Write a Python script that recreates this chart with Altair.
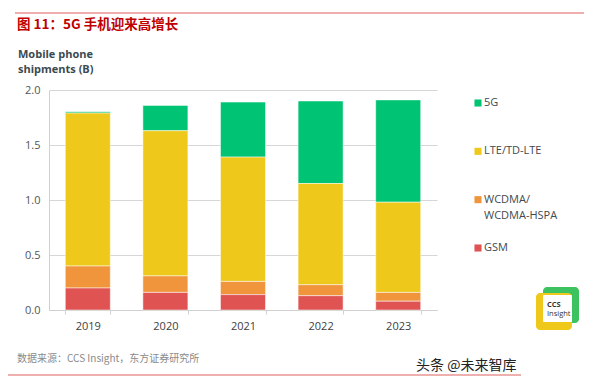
import altair as alt
import pandas as pd

years = ["2019", "2020", "2021", "2022", "2023"]
series_order = ["5G", "LTE/TD-LTE", "WCDMA/WCDMA-HSPA", "GSM"]
stack_rank = {"GSM": 0, "WCDMA/WCDMA-HSPA": 1, "LTE/TD-LTE": 2, "5G": 3}
colors = ["#00C373", "#EEC91B", "#F0953B", "#E05353"]

gsm = [0.20, 0.16, 0.14, 0.13, 0.08]
wcdma = [0.20, 0.15, 0.12, 0.10, 0.08]
lte = [1.39, 1.32, 1.13, 0.92, 0.82]
g5 = [0.012, 0.23, 0.50, 0.75, 0.93]

values_by_series = {"5G": g5, "LTE/TD-LTE": lte, "WCDMA/WCDMA-HSPA": wcdma, "GSM": gsm}
rows = []
for s, vals in values_by_series.items():
    for y, v in zip(years, vals):
        rows.append({"year": y, "series": s, "value": v, "rank": stack_rank[s]})
df = pd.DataFrame(rows)
df_leg = pd.DataFrame({"series": series_order})
one = pd.DataFrame({"a": [0]})

LATIN = "Open Sans"
CJK = "Noto Sans CJK SC"

color = alt.Color("series:N", scale=alt.Scale(domain=series_order, range=colors), legend=None)

bars = alt.Chart(df).mark_bar(stroke="#ffffff", strokeWidth=0.5).encode(
    x=alt.X("year:N", sort=years,
            scale=alt.Scale(paddingInner=0.42, paddingOuter=0.21),
            axis=alt.Axis(title=None, labelAngle=0, tickBand="extent", domainColor="#D0D0D0",
                          tickColor="#D0D0D0", tickSize=4, labelPadding=6, labelColor="#404040",
                          labelFontSize=11, labelFont=LATIN)),
    y=alt.Y("value:Q", stack="zero", scale=alt.Scale(domain=[0, 2]),
            axis=alt.Axis(title=None, values=[0, 0.5, 1, 1.5, 2], format=".1f", grid=True,
                          gridColor="#D6D6D6", domainColor="#D0D0D0", ticks=False, labelPadding=9,
                          labelColor="#555555", labelFontSize=11, labelFont=LATIN)),
    color=color,
    order=alt.Order("rank:Q", sort="ascending"),
)

leg_y = alt.Y("series:N", sort=series_order,
              scale=alt.Scale(type="point", range=[13, 158], padding=0), axis=None)
leg_sq = alt.Chart(df_leg).mark_square(size=50, opacity=1).encode(
    x=alt.value(429), y=leg_y, color=color)
leg_tx = alt.Chart(df_leg).transform_calculate(
    lab="replace(datum.series, 'A/', 'A/|')"
).mark_text(align="left", baseline="top", dy=-6, fontSize=11, font=LATIN, color="#404A4F",
            lineBreak="|", lineHeight=16).encode(
    x=alt.value(435), y=leg_y, text="lab:N")
legend = alt.layer(leg_sq, leg_tx)

def txt(s, x, y, **kw):
    return alt.Chart(one).mark_text(text=s, align="left", baseline="middle", **kw).encode(
        x=alt.value(x), y=alt.value(y))

def rule(x, x2, y, c, w):
    return alt.Chart(one).mark_rule(color=c, strokeWidth=w).encode(
        x=alt.value(x), x2=alt.value(x2), y=alt.value(y))

def box(x, x2, y, y2, c, r=0):
    return alt.Chart(one).mark_rect(color=c, cornerRadius=r).encode(
        x=alt.value(x), x2=alt.value(x2), y=alt.value(y), y2=alt.value(y2))

deco = [
    rule(-34, 560, -77, "#E89494", 1.5),
    txt("图 11：5G 手机迎来高增长", -32, -65, fontSize=13.5, fontWeight="bold", color="#C00000", font=CJK),
    alt.Chart(one).mark_text(text="Mobile phone|shipments (B)", align="left", baseline="middle",
                             lineBreak="|", lineHeight=15, fontSize=11, fontWeight="bold",
                             color="#3A4A50", font=LATIN).encode(x=alt.value(-31), y=alt.value(-35)),
    txt("数据来源：CCS Insight，东方证券研究所", -32, 269, fontSize=10, color="#8A8A8A", font=CJK),
    txt("头条 @未来智库", 367, 276, fontSize=14, color="#222222", font=CJK),
    rule(-42, 472, 285, "#E89494", 1.5),
    box(494, 530, 197, 233, "#3CC35F", 4),
    box(487, 523, 203, 240, "#EEC91B", 4),
    box(494, 523, 205, 232, "#FFFFFF", 1),
    txt("CCS", 498, 215, fontSize=7.5, fontWeight="bold", color="#333333", font=LATIN),
    txt("Insight", 498, 224, fontSize=7.5, color="#333333", font=LATIN),
]

chart = alt.layer(bars, legend, *deco).resolve_scale(y="independent").properties(
    width=388, height=220, autosize="none",
    padding={"left": 41, "top": 82, "right": 147, "bottom": 67},
).configure_view(stroke=None)

chart.save("out.html", embed_options={"renderer": "svg", "actions": False})
